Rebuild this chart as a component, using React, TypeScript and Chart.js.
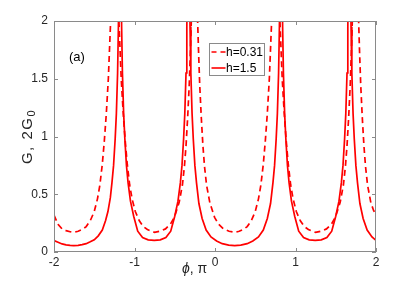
import React, { useEffect, useRef } from "react";
import { Chart, registerables } from "chart.js";

Chart.register(...registerables);

// h = 1.5 (solid)
const phiSolid = [
  -2.0, -1.95, -1.9, -1.85, -1.8, -1.755, -1.7, -1.65, -1.6, -1.55, -1.5, -1.45, -1.4, -1.36, -1.33, -1.3,
  -1.28, -1.26, -1.24, -1.225, -1.21, -1.2, -1.19, -1.18, -1.17, -1.16, -1.15, -1.135, -1.12, -1.1, -1.08,
  -1.05, -1.01, -0.96, -0.9, -0.83, -0.755, -0.68, -0.61, -0.55, -0.5, -0.46, -0.43, -0.41, -0.39, -0.375,
  -0.36, -0.35, -0.34, -0.33, -0.32, -0.31, -0.3, -0.285, -0.27, -0.25, -0.23, -0.2, -0.16, -0.11, -0.05,
  0.02, 0.09, 0.17, 0.245, 0.32, 0.4, 0.47, 0.54, 0.6, 0.65, 0.69, 0.72, 0.74, 0.76, 0.775, 0.79, 0.8, 0.81,
  0.82, 0.83, 0.84, 0.85, 0.865, 0.88, 0.9, 0.92, 0.95, 0.99, 1.04, 1.1, 1.17, 1.245, 1.32, 1.39, 1.45, 1.5,
  1.54, 1.57, 1.59, 1.61, 1.625, 1.64, 1.65, 1.66, 1.67, 1.68, 1.69, 1.7, 1.715, 1.73, 1.75, 1.77, 1.8, 1.84,
  1.89, 1.95, 2.0,
];
const gSolid = [
  0.1, 0.085, 0.07, 0.062, 0.057, 0.055, 0.058, 0.064, 0.072, 0.088, 0.105, 0.14, 0.19, 0.27, 0.35, 0.47,
  0.6, 0.75, 0.98, 1.2, 1.55, 1.95, 2.6, 3.2, 2.6, 1.95, 1.55, 1.2, 0.98, 0.75, 0.6,
  0.44, 0.31, 0.18, 0.125, 0.105, 0.1, 0.105, 0.125, 0.18, 0.31, 0.44, 0.6, 0.75, 0.98, 1.2,
  1.55, 1.95, 2.6, 3.2, 2.6, 1.95, 1.55, 1.2, 0.98, 0.75, 0.6, 0.42, 0.29, 0.19, 0.13,
  0.095, 0.072, 0.06, 0.055, 0.06, 0.072, 0.095, 0.13, 0.19, 0.29, 0.42, 0.6, 0.75, 0.98, 1.2, 1.55, 1.95, 2.6,
  3.2, 2.6, 1.95, 1.55, 1.2, 0.98, 0.75, 0.6, 0.44, 0.31, 0.18, 0.125, 0.105, 0.1, 0.105, 0.125, 0.18, 0.31,
  0.44, 0.6, 0.75, 0.98, 1.2, 1.55, 1.95, 2.6, 3.2, 2.6, 1.95, 1.55, 1.2, 0.98, 0.75, 0.6, 0.42, 0.29,
  0.19, 0.13, 0.1,
];

// h = 0.31 (dashed)
const phiDashed = [
  -2.0, -1.95, -1.9, -1.85, -1.8, -1.75, -1.7, -1.65, -1.6, -1.55, -1.5, -1.46, -1.43, -1.4, -1.375, -1.35,
  -1.325, -1.305, -1.285, -1.265, -1.245, -1.225, -1.205, -1.185, -1.165, -1.14, -1.115, -1.09, -1.06, -1.03,
  -0.99, -0.94, -0.89, -0.84, -0.79, -0.75, -0.685, -0.615, -0.555, -0.505, -0.445, -0.405, -0.38, -0.36,
  -0.34, -0.32, -0.305, -0.29, -0.275, -0.255, -0.235, -0.22, -0.205, -0.19, -0.17, -0.15, -0.13, -0.105,
  -0.065, -0.005, 0.045, 0.105, 0.175, 0.25, 0.3, 0.35, 0.4, 0.45, 0.5, 0.54, 0.57, 0.6, 0.625, 0.65, 0.675,
  0.695, 0.715, 0.735, 0.755, 0.775, 0.795, 0.815, 0.835, 0.86, 0.885, 0.91, 0.94, 0.97, 1.01, 1.06, 1.11,
  1.16, 1.21, 1.25, 1.315, 1.385, 1.445, 1.495, 1.555, 1.595, 1.62, 1.64, 1.66, 1.68, 1.695, 1.71, 1.725,
  1.745, 1.765, 1.78, 1.795, 1.81, 1.83, 1.85, 1.87, 1.895, 1.935, 1.97, 2.0,
];
const gDashed = [
  0.32, 0.24, 0.2, 0.185, 0.175, 0.17, 0.18, 0.195, 0.22, 0.27, 0.35, 0.46, 0.58, 0.76, 0.96, 1.2,
  1.5, 1.85, 2.2, 2.45, 2.6, 2.45, 2.2, 1.85, 1.5, 1.2, 0.96, 0.76, 0.58, 0.46,
  0.35, 0.27, 0.22, 0.195, 0.18, 0.17, 0.18, 0.2, 0.24, 0.3, 0.43, 0.58, 0.74, 0.92,
  1.16, 1.45, 1.75, 2.1, 2.4, 2.6, 2.4, 2.1, 1.75, 1.45, 1.16, 0.92, 0.74, 0.58,
  0.43, 0.3, 0.24, 0.2, 0.18, 0.17, 0.18, 0.195, 0.22, 0.27, 0.35, 0.46, 0.58, 0.76, 0.96, 1.2, 1.5,
  1.85, 2.2, 2.45, 2.6, 2.45, 2.2, 1.85, 1.5, 1.2, 0.96, 0.76, 0.58, 0.46, 0.35, 0.27, 0.22,
  0.195, 0.18, 0.17, 0.18, 0.2, 0.24, 0.3, 0.43, 0.58, 0.74, 0.92, 1.16, 1.45, 1.75, 2.1, 2.4,
  2.6, 2.4, 2.1, 1.75, 1.45, 1.16, 0.92, 0.74, 0.58, 0.43, 0.36, 0.32,
];

const legendLabels = ["h=0.31", "h=1.5"];
const xTicks = [-2, -1, 0, 1, 2];
const yTicks = [0, 0.5, 1, 1.5, 2];

const RED = "#ff0000";
const FONT = "'Liberation Sans', Arial, Helvetica, sans-serif";
const DASH = [6, 4];

const decorPlugin = {
  id: "decor",
  afterDraw(chart: any) {
    const { ctx, chartArea: a, scales } = chart;
    const xs = scales.x;
    const ys = scales.y;
    ctx.save();
    // box
    ctx.strokeStyle = "#8a8a8a";
    ctx.lineWidth = 1;
    ctx.strokeRect(a.left + 0.5, a.top + 0.5, a.right - a.left - 1, a.bottom - a.top - 1);
    // inside ticks
    const tl = 4;
    ctx.beginPath();
    for (const t of xTicks) {
      const px = Math.round(xs.getPixelForValue(t)) + 0.5;
      ctx.moveTo(px, a.bottom);
      ctx.lineTo(px, a.bottom - tl);
      ctx.moveTo(px, a.top);
      ctx.lineTo(px, a.top + tl);
    }
    for (const t of yTicks) {
      const py = Math.round(ys.getPixelForValue(t)) + 0.5;
      ctx.moveTo(a.left, py);
      ctx.lineTo(a.left + tl, py);
      ctx.moveTo(a.right, py);
      ctx.lineTo(a.right - tl, py);
    }
    ctx.stroke();

    // (a)
    ctx.fillStyle = "#000";
    ctx.font = `13px ${FONT}`;
    ctx.textBaseline = "middle";
    ctx.textAlign = "left";
    ctx.fillText("(a)", a.left + 15, a.top + 36);

    // y title
    ctx.save();
    ctx.translate(27, (a.top + a.bottom) / 2);
    ctx.rotate(-Math.PI / 2);
    ctx.fillStyle = "#262626";
    try {
      (ctx as any).letterSpacing = "1.5px";
    } catch (e) {}
    ctx.font = `15px ${FONT}`;
    const main = "G, 2G";
    const wMain = ctx.measureText(main).width;
    ctx.font = `11px ${FONT}`;
    const wSub = ctx.measureText("0").width;
    const start = -(wMain + wSub) / 2;
    ctx.font = `15px ${FONT}`;
    ctx.textBaseline = "alphabetic";
    ctx.fillText(main, start, 5);
    ctx.font = `11px ${FONT}`;
    ctx.fillText("0", start + wMain, 8);
    try {
      (ctx as any).letterSpacing = "0px";
    } catch (e) {}
    ctx.restore();

    // x title
    ctx.fillStyle = "#262626";
    ctx.textBaseline = "alphabetic";
    ctx.font = `italic 14px ${FONT}`;
    const xl = a.left + 128;
    const by = 273;
    ctx.fillText("\u03d5", xl, by);
    const wPhi = ctx.measureText("\u03d5").width;
    ctx.font = `14px ${FONT}`;
    ctx.fillText(", \u03c0", xl + wPhi, by);

    // legend
    const lx = 209.5, ly = 43.5, lw = 55, lh = 32;
    ctx.fillStyle = "#fff";
    ctx.fillRect(lx, ly, lw, lh);
    ctx.strokeStyle = "#8a8a8a";
    ctx.lineWidth = 1;
    ctx.strokeRect(lx, ly, lw, lh);
    const rows = [ly + 8.5, ly + 24.5];
    ctx.strokeStyle = RED;
    ctx.lineWidth = 1.6;
    ctx.setLineDash([5, 4]);
    ctx.beginPath();
    ctx.moveTo(lx + 2, rows[0]);
    ctx.lineTo(lx + 17, rows[0]);
    ctx.stroke();
    ctx.setLineDash([]);
    ctx.beginPath();
    ctx.moveTo(lx + 2, rows[1]);
    ctx.lineTo(lx + 16, rows[1]);
    ctx.stroke();
    ctx.fillStyle = "#000";
    ctx.font = `12px ${FONT}`;
    ctx.textBaseline = "middle";
    ctx.fillText(legendLabels[0], lx + 16.5, rows[0] + 0.5);
    ctx.fillText(legendLabels[1], lx + 16.5, rows[1] + 0.5);
    ctx.restore();
  },
};

export default function App() {
  const ref = useRef<HTMLCanvasElement | null>(null);
  useEffect(() => {
    if (!ref.current) return;
    const chart = new Chart(ref.current, {
      type: "scatter",
      data: {
        datasets: [
          {
            label: legendLabels[0],
            data: phiDashed.map((x, i) => ({ x, y: gDashed[i] })),
            showLine: true,
            borderColor: RED,
            borderWidth: 1.7,
            borderDash: DASH,
            pointRadius: 0,
            tension: 0,
            clip: 0,
          },
          {
            label: legendLabels[1],
            data: phiSolid.map((x, i) => ({ x, y: gSolid[i] })),
            showLine: true,
            borderColor: RED,
            borderWidth: 1.7,
            pointRadius: 0,
            tension: 0,
            clip: 0,
          },
        ],
      },
      options: {
        animation: false,
        responsive: false,
        maintainAspectRatio: false,
        layout: { padding: { left: 0, top: 21, right: 39, bottom: 0 } },
        plugins: { legend: { display: false }, tooltip: { enabled: false } },
        scales: {
          x: {
            type: "linear",
            min: -2,
            max: 2,
            afterFit: (s: any) => {
              s.height = 31;
            },
            afterBuildTicks: (s: any) => {
              s.ticks = xTicks.map((v) => ({ value: v }));
            },
            grid: { display: false, drawTicks: false },
            border: { display: false },
            ticks: {
              padding: 3,
              color: "#262626",
              font: { family: FONT, size: 12 },
              callback: (v: any) => String(v),
              maxRotation: 0,
            },
          },
          y: {
            type: "linear",
            min: 0,
            max: 2,
            afterFit: (s: any) => {
              s.width = 54;
            },
            afterBuildTicks: (s: any) => {
              s.ticks = yTicks.map((v) => ({ value: v }));
            },
            grid: { display: false, drawTicks: false },
            border: { display: false },
            ticks: {
              padding: 6,
              color: "#262626",
              font: { family: FONT, size: 12 },
              callback: (v: any) => String(v),
            },
          },
        },
      },
      plugins: [decorPlugin],
    });
    return () => chart.destroy();
  }, []);
  return (
    <div style={{ position: "fixed", left: 0, top: 0, width: 415, height: 283, background: "#fff" }}>
      <canvas ref={ref} width={415} height={283} style={{ width: 415, height: 283, display: "block" }} />
    </div>
  );
}
